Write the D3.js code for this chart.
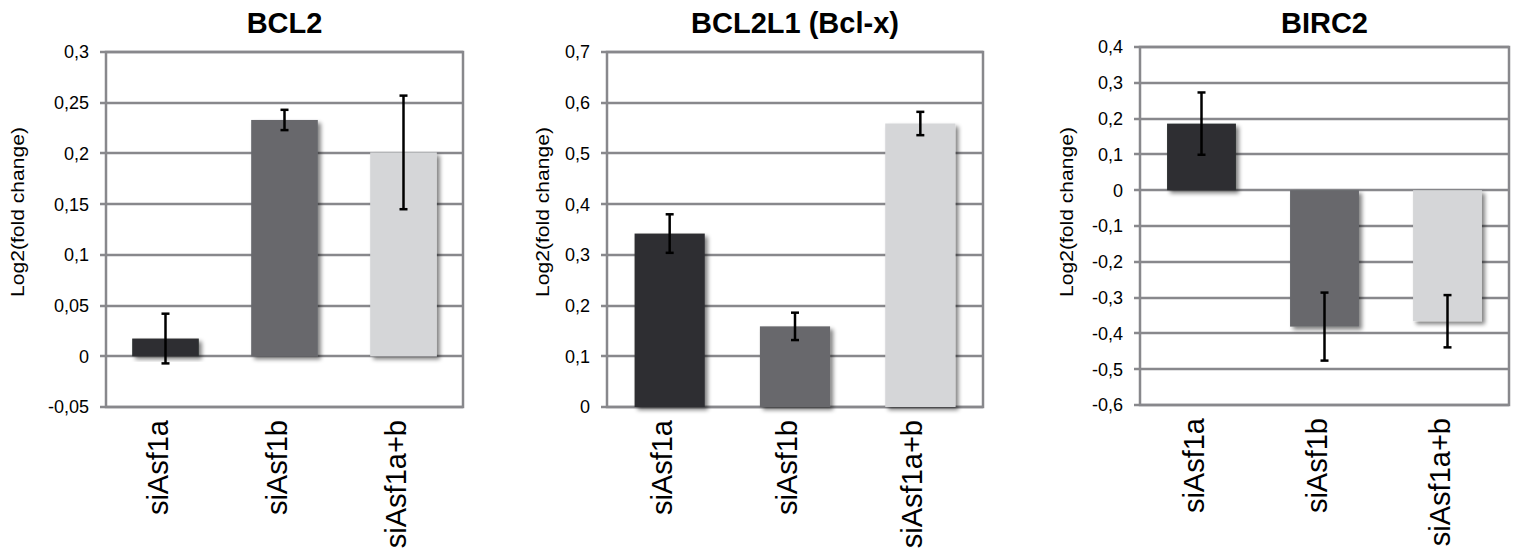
<!DOCTYPE html>
<html>
<head>
<meta charset="utf-8">
<script src="https://cdn.jsdelivr.net/npm/d3@7"></script>
<style>
  html, body { margin: 0; padding: 0; background: #fff; }
  svg { display: block; font-family: "Liberation Sans", Arial, Helvetica, sans-serif; }
</style>
</head>
<body>
<svg id="chart" width="1519" height="557"></svg>
<script>
// Conditions (x categories), shared by the three genes
const conditions = ["siAsf1a", "siAsf1b", "siAsf1a+b"];

// BCL2
const bcl2Values = [0.0175, 0.233, 0.201];
const bcl2Errors = [0.0245, 0.010, 0.056];
const bcl2Ticks = [-0.05, 0, 0.05, 0.1, 0.15, 0.2, 0.25, 0.3];

// BCL2L1 (Bcl-x)
const bcl2l1Values = [0.342, 0.159, 0.559];
const bcl2l1Errors = [0.038, 0.027, 0.023];
const bcl2l1Ticks = [0, 0.1, 0.2, 0.3, 0.4, 0.5, 0.6, 0.7];

// BIRC2
const birc2Values = [0.186, -0.381, -0.366];
const birc2Errors = [0.087, 0.095, 0.073];
const birc2Ticks = [-0.6, -0.5, -0.4, -0.3, -0.2, -0.1, 0, 0.1, 0.2, 0.3, 0.4];

const barColors = ["#2e2f31", "#67686c", "#d5d6d8"];
const yTitle = "Log2(fold change)";

const panels = [
  { title: "BCL2", values: bcl2Values, errors: bcl2Errors, ticks: bcl2Ticks,
    left: 106, right: 463, top: 52, bottom: 407, yLabelX: 24 },
  { title: "BCL2L1 (Bcl-x)", values: bcl2l1Values, errors: bcl2l1Errors, ticks: bcl2l1Ticks,
    left: 607, right: 983, top: 52, bottom: 407, yLabelX: 549 },
  { title: "BIRC2", values: birc2Values, errors: birc2Errors, ticks: birc2Ticks,
    left: 1140, right: 1509, top: 47, bottom: 405, yLabelX: 1073 }
];

// decimal comma, plain hyphen minus
const locale = d3.formatLocale({ decimal: ",", thousands: ".", grouping: [3], currency: ["", " €"], minus: "-" });
const fmt = locale.format("");

const svg = d3.select("#chart");

// soft drop shadow under bars
const defs = svg.append("defs");
const shadow = defs.append("filter").attr("id", "barShadow")
  .attr("x", "-20%").attr("y", "-20%").attr("width", "150%").attr("height", "150%");
shadow.append("feGaussianBlur").attr("in", "SourceAlpha").attr("stdDeviation", 2).attr("result", "blur");
shadow.append("feOffset").attr("in", "blur").attr("dx", 3).attr("dy", 3).attr("result", "off");
shadow.append("feComponentTransfer").attr("in", "off").attr("result", "soft")
  .append("feFuncA").attr("type", "linear").attr("slope", 0.5);
const merge = shadow.append("feMerge");
merge.append("feMergeNode").attr("in", "soft");
merge.append("feMergeNode").attr("in", "SourceGraphic");

const gridColor = "#88888c";

panels.forEach(p => {
  const g = svg.append("g");
  const y = d3.scaleLinear()
    .domain([d3.min(p.ticks), d3.max(p.ticks)])
    .range([p.bottom, p.top]);
  const x = d3.scaleBand()
    .domain(conditions)
    .range([p.left, p.right])
    .paddingInner(0.44)
    .paddingOuter(0.22);

  // gridlines with short outward ticks
  g.append("g").selectAll("line").data(p.ticks).join("line")
    .attr("x1", p.left - 6).attr("x2", p.right)
    .attr("y1", d => Math.round(y(d))).attr("y2", d => Math.round(y(d)))
    .attr("stroke", gridColor).attr("stroke-width", 2.5);

  // plot frame
  g.append("rect")
    .attr("x", p.left).attr("y", Math.round(p.top))
    .attr("width", p.right - p.left).attr("height", Math.round(p.bottom) - Math.round(p.top))
    .attr("fill", "none").attr("stroke", gridColor).attr("stroke-width", 2.5);

  // tick labels
  g.append("g").selectAll("text").data(p.ticks).join("text")
    .attr("x", p.left - 17).attr("y", d => y(d)).attr("dy", "0.36em")
    .attr("text-anchor", "end").attr("font-size", 18).attr("fill", "#000")
    .text(d => fmt(d));

  // bars
  g.append("g").selectAll("rect").data(p.values).join("rect")
    .attr("x", (d, i) => x(conditions[i]))
    .attr("width", x.bandwidth())
    .attr("y", d => y(Math.max(0, d)))
    .attr("height", d => Math.abs(y(d) - y(0)))
    .attr("fill", (d, i) => barColors[i])
    .attr("filter", "url(#barShadow)");

  // error bars
  const eb = g.append("g").attr("stroke", "#000").attr("stroke-width", 2.5);
  p.values.forEach((v, i) => {
    const cx = x(conditions[i]) + x.bandwidth() / 2;
    const hi = y(v + p.errors[i]), lo = y(v - p.errors[i]);
    eb.append("line").attr("x1", cx).attr("x2", cx).attr("y1", hi).attr("y2", lo);
    eb.append("line").attr("x1", cx - 4).attr("x2", cx + 4).attr("y1", hi).attr("y2", hi);
    eb.append("line").attr("x1", cx - 4).attr("x2", cx + 4).attr("y1", lo).attr("y2", lo);
  });

  // category labels, rotated
  g.append("g").selectAll("text").data(conditions).join("text")
    .attr("transform", d => `translate(${x(d) + x.bandwidth() / 2 + 2},${p.bottom + 13}) rotate(-90)`)
    .attr("text-anchor", "end").attr("font-size", 29).attr("fill", "#000")
    .text(d => d);

  // y-axis title
  g.append("text")
    .attr("transform", `translate(${p.yLabelX},212) rotate(-90)`)
    .attr("text-anchor", "middle").attr("font-size", 18).attr("fill", "#000")
    .attr("textLength", 170).attr("lengthAdjust", "spacingAndGlyphs")
    .text(yTitle);

  // panel title
  g.append("text")
    .attr("x", (p.left + p.right) / 2).attr("y", 33)
    .attr("text-anchor", "middle").attr("font-size", 29).attr("font-weight", "bold")
    .attr("fill", "#000")
    .text(p.title);
});
</script>
</body>
</html>
